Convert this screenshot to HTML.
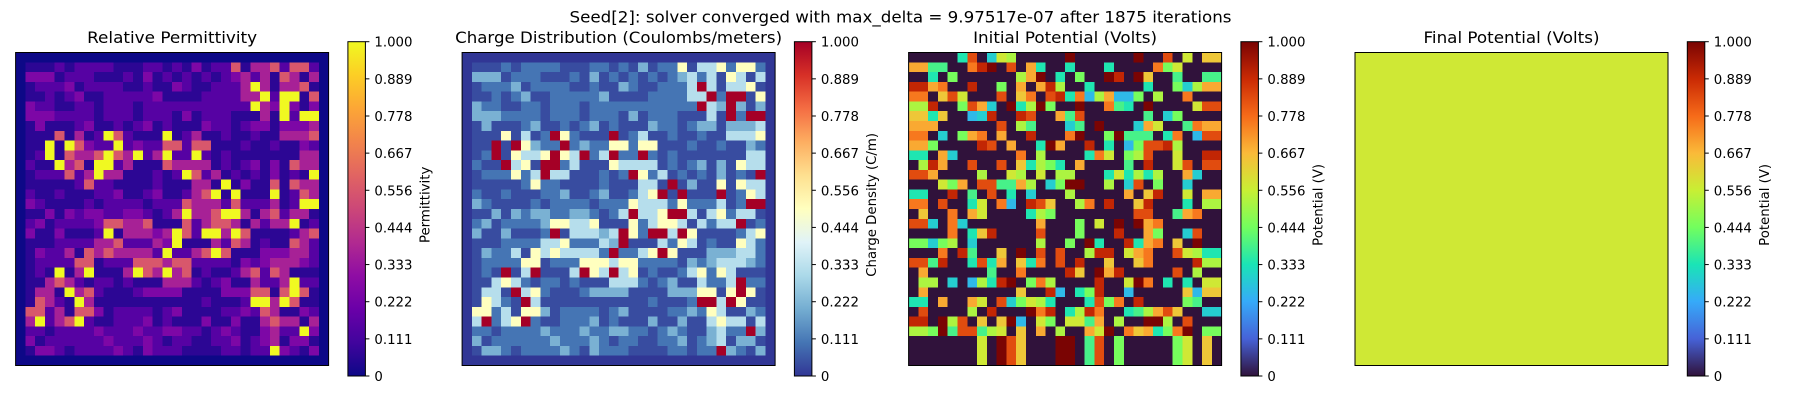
<!DOCTYPE html>
<html><head><meta charset="utf-8"><title>Solver Heatmaps</title>
<style>
html,body{margin:0;padding:0;background:#fff;}
svg{display:block;font-family:"DejaVu Sans","Liberation Sans",sans-serif;}
</style></head>
<body>
<svg id="fig" width="1800" height="400" viewBox="0 0 1800 400" xmlns="http://www.w3.org/2000/svg">
<text x="569.5" y="22.5" font-size="16" textLength="662" lengthAdjust="spacingAndGlyphs">Seed[2]: solver converged with max_delta = 9.97517e-07 after 1875 iterations</text>
</svg>
<script>
// ---- data: permittivity inner 30x30 grid (level codes), outer ring is zero ----
const permLevels = [0, 0.06, 0.15, 0.25, 0.37, 0.556, 0.7, 0.8, 0.9, 1.0];
const permRows = [
"111212222111221213122514452552",
"333122211121312121212342415414",
"122231222211211321122249414451",
"112123112222231111222244929915",
"322112212221222222222229439313",
"333222212221222131222111419299",
"131112311212312111322123313334",
"111514129521119124112112114445",
"119195322923225525511121121132",
"129154459549249229212111111144",
"211945199241115444412123131544",
"122252494411121295241212131219",
"111112522111121114419131151544",
"211211122311231124591911191254",
"321111212222122254442522241299",
"113132332233212494459941452441",
"231222235544511152455414244912",
"311311129144434952994951111245",
"111222244522243911142541211542",
"132241545444429224595111333442",
"122225512225554552222132344432",
"121914911149549451211245254111",
"114542122121114442123114224922",
"144194521112333311113335515951",
"154219411111111111211129949511",
"552415531222212311112232541132",
"492459211222312111311311454414",
"221222232223223322123211342293",
"312222223222321221122312341331",
"133212222321322211112212293213"
];
// charge distribution shares the same field pattern
const chargeRows = permRows.slice();
const chargeLevels = [0, 0.035, 0.1, 0.21, 0.32, 0.5, 0.7, 0.8, 0.9, 1.0];
// ---- initial potential 32x32 (level codes) ----
const potLevels = {"0":0,"a":0.25,"b":0.29,"c":0.34,"d":0.39,"e":0.45,"f":0.52,"g":0.57,"h":0.64,"i":0.69,"j":0.76,"k":0.83,"l":0.9,"m":1.0};
const potRows = [
"00000ck0bgf00000m000000m00k0g0hh",
"iidd00jlm0k0ic00c000c0000jeg0000",
"00c0e000000fim0c0e00ml0mh00d00dd",
"llij00l00e0i0ilf00c00000c00ebfii",
"jj0hkg000k0hj0klcjafiaae0f00j000",
"ffl00ekib0mcfme00m00jdc0m0000gkk",
"hhch00abl00lk00idk000000d0be0000",
"iii000000k0fd000bd0m000big00djii",
"jj0b0eij0i00l000jm00emddd0cj0akk",
"iie0000lk0i00cmi00l0c0aekklf0000",
"cc0ib000000j0f0000cjg0efk00g00ll",
"0fli00k00k0hcfec0i0000d0l00gk0kk",
"kki0000f00gf0g0ff000cgcfcf00ib00",
"000gei0kkddif0bemm00f0bk0e00b000",
"cc00l0d0k0c0b000f00000i0hl00g0ii",
"jj0k00cg0ja0lkh00fj0l00hl000c0ff",
"0h00j0ig0000cfe00000000kk00dij00",
"kkb0jb0000000i000e0g0m0mij000000",
"0000j0chl0000k000e000l00ie00bk00",
"eebef0b000000f00e0mc00lcij0h0m00",
"000j0ld00h0m0k0k00fll0gij00kgfcc",
"kkdl00ckci0hcj0k0l00h00hj0000lff",
"0i000000d00j0000lh0mil00000k0f00",
"0ff0b0afclm0ejf0000l00gmj0c0c0gg",
"0i000000000h00la0cel00a00000hahh",
"cc0i00ig0kbegfc000ckej0l0000ed00",
"0k0000f0l000mjl0cflj00cdfikh00bb",
"ll0mfk0h0hma0ge0ggdi0f00mmf0k000",
"ffemdkkdfg0h0i0f00igm0jhicejm0ee",
"0000000g0mkh000mm0dk0e00000eg0h0",
"0000000g0mkh000mm0dk0e00000eg0h0",
"0000000g0mkh000mm0dk0e00000eg0h0"
];
// ---- final potential: uniform value ----
const finalValue = 0.57;
const tickLabels = ["0","0.111","0.222","0.333","0.444","0.556","0.667","0.778","0.889","1.000"];
const tickValues = [0,1/9,2/9,3/9,4/9,5/9,6/9,7/9,8/9,1];

const plasma = ["#0d0887","#41049d","#6a00a8","#8f0da4","#b12a90","#cc4778","#e16462","#f2844b","#fca636","#fcce25","#f0f921"];
const rdylbu = ["#313695","#4575b4","#74add1","#abd9e9","#e0f3f8","#ffffbf","#fee090","#fdae61","#f46d43","#d73027","#a50026"];
const turbo = ["#30123b","#4662d7","#36aaf9","#1ae4b6","#72fe5e","#c8ef34","#faba39","#f66b19","#ca2a04","#7a0403"];

function hex(h){return [parseInt(h.slice(1,3),16),parseInt(h.slice(3,5),16),parseInt(h.slice(5,7),16)];}
function cmap(stops,v){
  v=Math.max(0,Math.min(1,v));
  const n=stops.length-1, p=v*n, i=Math.min(n-1,Math.floor(p)), t=p-i;
  const a=hex(stops[i]), b=hex(stops[i+1]);
  return "rgb("+a.map((x,k)=>Math.round(x+(b[k]-x)*t)).join(",")+")";
}
function decodeInner(rows,levels){
  const N=rows.length+2, g=[];
  for(let r=0;r<N;r++){const row=[];for(let c=0;c<N;c++){
    if(r===0||c===0||r===N-1||c===N-1) row.push(0);
    else row.push(levels[+rows[r-1][c-1]]);
  } g.push(row);}
  return g;
}
function decodeFull(rows,levels){return rows.map(s=>s.split("").map(ch=>levels[ch]));}

const NS="http://www.w3.org/2000/svg";
const svg=document.getElementById("fig");
function mk(tag,attrs,parent){const e=document.createElementNS(NS,tag);for(const k in attrs)e.setAttribute(k,attrs[k]);(parent||svg).appendChild(e);return e;}

const AX_W=313, AX_H=313, AX_TOP=52.5;
const CB_TOP=41.7, CB_BOT=376, CB_W=17.5, CB_GAP=19.3;
const lefts=[15.6,462.1,908.6,1355];

const panels=[
 {title:"Relative Permittivity", tl:170, grid:decodeInner(permRows,permLevels), stops:plasma, label:"Permittivity", name:"permittivity"},
 {title:"Charge Distribution (Coulombs/meters)", tl:327, grid:decodeInner(chargeRows,chargeLevels), stops:rdylbu, label:"Charge Density (C/m)", name:"charge"},
 {title:"Initial Potential (Volts)", tl:184, grid:decodeFull(potRows,potLevels), stops:turbo, label:"Potential (V)", name:"initial-potential"},
 {title:"Final Potential (Volts)", tl:176, grid:null, stops:turbo, label:"Potential (V)", name:"final-potential"}
];

panels.forEach((p,pi)=>{
  const x0=lefts[pi];
  const g=mk("g",{});
  
  
  const t=mk("text",{x:x0+AX_W/2,y:43,"font-size":16,"text-anchor":"middle",textLength:p.tl,lengthAdjust:"spacingAndGlyphs"},g);
  t.textContent=p.title;
  
  
  const hm=mk("g",{"shape-rendering":"crispEdges"},g);
  
  
  if(p.grid){
    const N=p.grid.length, cw=AX_W/N, ch=AX_H/N;
    for(let r=0;r<N;r++)for(let c=0;c<N;c++){
      const cell=mk("rect",{x:x0+c*cw,y:AX_TOP+r*ch,width:cw+0.4,height:ch+0.4,fill:cmap(p.stops,p.grid[r][c])},hm);
      
      
    }
  } else {
    const cell=mk("rect",{x:x0,y:AX_TOP,width:AX_W,height:AX_H,fill:cmap(p.stops,finalValue)},hm);
    
    
  }
  const fr=mk("rect",{x:x0,y:AX_TOP,width:AX_W,height:AX_H,fill:"none",stroke:"#000","stroke-width":1},g);
  
  
  const cx=x0+AX_W+CB_GAP;
  const gid="grad"+pi;
  const lg=mk("linearGradient",{id:gid,x1:0,y1:1,x2:0,y2:0},g);
  p.stops.forEach((s,i)=>{mk("stop",{offset:i/(p.stops.length-1),"stop-color":s},lg);});
  const cb=mk("rect",{x:cx,y:CB_TOP,width:CB_W,height:CB_BOT-CB_TOP,fill:"url(#"+gid+")",stroke:"#000","stroke-width":1},g);
  
  
  tickValues.forEach((v,i)=>{
    const y=CB_BOT-v*(CB_BOT-CB_TOP);
    const tk=mk("line",{x1:cx+CB_W,x2:cx+CB_W+4,y1:y,y2:y,stroke:"#000","stroke-width":1},g);
    
    
    const tx=mk("text",{x:cx+CB_W+9,y:y+5,"font-size":13.3},g);
    tx.textContent=tickLabels[i];
    
    
  });
  const lx=cx+CB_W+64, ly=(CB_TOP+CB_BOT)/2-4;
  const lb=mk("text",{x:lx,y:ly,"font-size":13.3,"text-anchor":"middle",transform:"rotate(-90 "+lx+" "+ly+")"},g);
  lb.textContent=p.label;
  
  
});
</script>
</body></html>
